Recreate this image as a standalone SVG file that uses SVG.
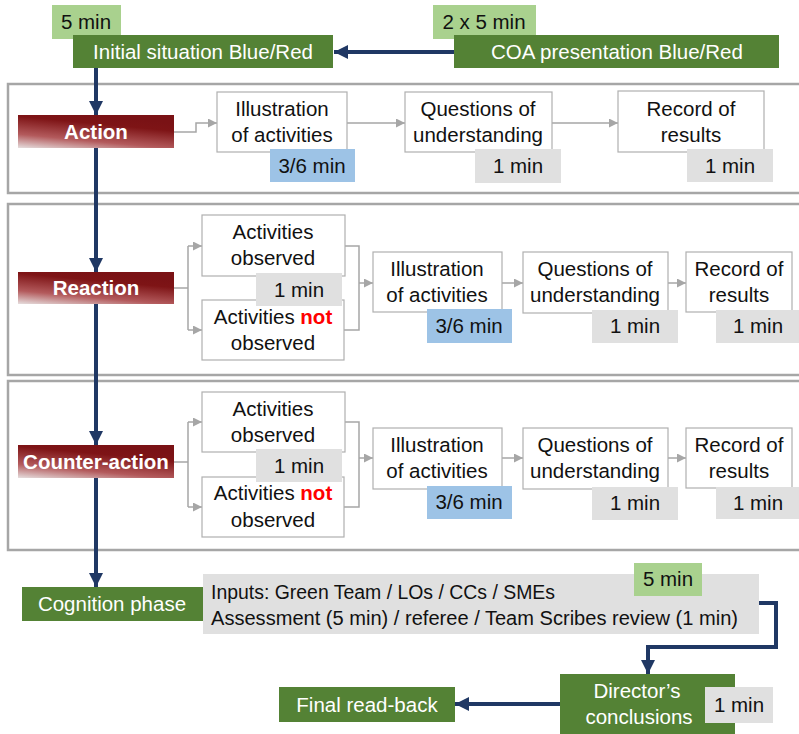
<svg xmlns="http://www.w3.org/2000/svg" width="799" height="734" viewBox="0 0 799 734">
  <style>
    .t { font-family: "Liberation Sans", Arial, sans-serif; font-size: 20.5px; fill: #111; text-anchor: middle; }
    .w { fill: #ffffff; }
    .b { font-weight: bold; }
    .l { text-anchor: start; font-size: 20px; }
    .frame { fill: none; stroke: #a6a6a6; stroke-width: 2.5; }
    .box { fill: #ffffff; stroke: #b0b0b0; stroke-width: 1.2; }
    .green { fill: #548235; }
    .lgreen { fill: #a9d18e; }
    .blue { fill: #9dc3e6; }
    .grey { fill: #e0e0e0; }
    .phase { fill: url(#phaseGrad); }
    .thin { fill: none; stroke: #a6a6a6; stroke-width: 1.5; }
    .thinA { fill: none; stroke: #a6a6a6; stroke-width: 1.5; marker-end: url(#greyArrow); }
    .navy { fill: none; stroke: #203864; stroke-width: 4; marker-end: url(#navyArrow); }
    .red { fill: #ff0000; font-weight: bold; }
  </style>
  <defs>
    <linearGradient id="phaseGrad" x1="0" y1="1" x2="0.45" y2="0">
      <stop offset="0" stop-color="#e6dede"/>
      <stop offset="0.35" stop-color="#b35a5c"/>
      <stop offset="0.8" stop-color="#7e1416"/>
      <stop offset="1" stop-color="#7a1215"/>
    </linearGradient>
    <marker id="greyArrow" markerUnits="userSpaceOnUse" markerWidth="9" markerHeight="9" refX="9" refY="4.5" orient="auto">
      <path d="M0,0 L9,4.5 L0,9 z" fill="#a6a6a6"/>
    </marker>
    <marker id="navyArrow" markerUnits="userSpaceOnUse" markerWidth="14" markerHeight="14" refX="14" refY="7" orient="auto">
      <path d="M0,0 L14,7 L0,14 z" fill="#203864"/>
    </marker>
  </defs>

  <!-- phase frames (open to the right) -->
  <g id="frames">
    <path class="frame" d="M805,84 H8 V193 H805"/>
    <path class="frame" d="M805,204 H8 V375 H805"/>
    <path class="frame" d="M805,381 H8 V550 H805"/>
  </g>

  <!-- connectors -->
  <g id="connectors">
    <path class="navy" d="M454,52 H334"/>
    <path class="navy" d="M96,68 V115"/>
    <path class="navy" d="M96,148 V272"/>
    <path class="navy" d="M96,304 V445"/>
    <path class="navy" d="M96,478 V587"/>
    <path class="navy" d="M759,603 H776 V647 H648 V674"/>
    <path class="navy" d="M560,704 H455"/>

    <!-- action row -->
    <path class="thinA" d="M174,132 H196 V123 H217"/>
    <path class="thinA" d="M347,123 H405"/>
    <path class="thinA" d="M552,123 H618"/>

    <!-- reaction row -->
    <path class="thin" d="M174,288 H188 M188,246 V330"/>
    <path class="thinA" d="M188,246 H202"/>
    <path class="thinA" d="M188,330 H202"/>
    <path class="thin" d="M345,246 H359 V330 H344"/>
    <path class="thinA" d="M359,283 H373"/>
    <path class="thinA" d="M502,283 H523"/>
    <path class="thinA" d="M668,283 H686"/>

    <!-- counter-action row -->
    <path class="thin" d="M174,462 H188 M188,422 V507"/>
    <path class="thinA" d="M188,422 H202"/>
    <path class="thinA" d="M188,507 H202"/>
    <path class="thin" d="M345,422 H359 V507 H344"/>
    <path class="thinA" d="M359,458 H373"/>
    <path class="thinA" d="M502,458 H523"/>
    <path class="thinA" d="M668,458 H686"/>
  </g>

  <!-- briefing -->
  <g id="initial-situation">
    <rect class="lgreen" x="52" y="5" width="69" height="34"/>
    <text class="t" x="86" y="29">5 min</text>
    <rect class="green" x="73" y="35" width="260" height="33"/>
    <text class="t w" x="203" y="59">Initial situation Blue/Red</text>
  </g>
  <g id="coa-presentation">
    <rect class="lgreen" x="433" y="5" width="103" height="34"/>
    <text class="t" x="484" y="29">2 x 5 min</text>
    <rect class="green" x="454" y="35" width="325" height="33"/>
    <text class="t w" x="617" y="59">COA presentation Blue/Red</text>
  </g>

  <!-- action phase -->
  <g id="action">
    <rect class="phase" x="18" y="115" width="156" height="33"/>
    <text class="t w b" x="96" y="139">Action</text>
  </g>
  <g id="action-illustration">
    <rect class="box" x="217" y="92" width="130" height="60"/>
    <text class="t" x="282" y="116">Illustration</text>
    <text class="t" x="282" y="142">of activities</text>
    <rect class="blue" x="270" y="149" width="85" height="33"/>
    <text class="t" x="312" y="173">3/6 min</text>
  </g>
  <g id="action-questions">
    <rect class="box" x="405" y="92" width="147" height="60"/>
    <text class="t" x="478" y="116">Questions of</text>
    <text class="t" x="478" y="142">understanding</text>
    <rect class="grey" x="475" y="149" width="86" height="34"/>
    <text class="t" x="518" y="173">1 min</text>
  </g>
  <g id="action-record">
    <rect class="box" x="618" y="91" width="146" height="61"/>
    <text class="t" x="691" y="116">Record of</text>
    <text class="t" x="691" y="142">results</text>
    <rect class="grey" x="687" y="149" width="86" height="33"/>
    <text class="t" x="730" y="173">1 min</text>
  </g>

  <!-- reaction phase -->
  <g id="reaction">
    <rect class="phase" x="18" y="272" width="156" height="32"/>
    <text class="t w b" x="96" y="295">Reaction</text>
  </g>
  <g id="reaction-not-observed">
    <rect class="box" x="202" y="300" width="142" height="60"/>
    <text class="t" x="273" y="324">Activities <tspan class="red">not</tspan></text>
    <text class="t" x="273" y="350">observed</text>
  </g>
  <g id="reaction-observed">
    <rect class="box" x="202" y="215" width="143" height="61"/>
    <text class="t" x="273" y="239">Activities</text>
    <text class="t" x="273" y="265">observed</text>
    <rect class="grey" x="256" y="273" width="86" height="33"/>
    <text class="t" x="299" y="297">1 min</text>
  </g>
  <g id="reaction-illustration">
    <rect class="box" x="373" y="252" width="129" height="60"/>
    <text class="t" x="437" y="276">Illustration</text>
    <text class="t" x="437" y="302">of activities</text>
    <rect class="blue" x="427" y="309" width="85" height="34"/>
    <text class="t" x="469" y="333">3/6 min</text>
  </g>
  <g id="reaction-questions">
    <rect class="box" x="523" y="252" width="145" height="61"/>
    <text class="t" x="595" y="276">Questions of</text>
    <text class="t" x="595" y="302">understanding</text>
    <rect class="grey" x="592" y="310" width="86" height="33"/>
    <text class="t" x="635" y="333">1 min</text>
  </g>
  <g id="reaction-record">
    <rect class="box" x="686" y="252" width="106" height="60"/>
    <text class="t" x="739" y="276">Record of</text>
    <text class="t" x="739" y="302">results</text>
    <rect class="grey" x="716" y="310" width="86" height="33"/>
    <text class="t" x="758" y="333">1 min</text>
  </g>

  <!-- counter-action phase -->
  <g id="counter-action">
    <rect class="phase" x="18" y="445" width="156" height="33"/>
    <text class="t w b" x="96" y="469">Counter-action</text>
  </g>
  <g id="counter-not-observed">
    <rect class="box" x="202" y="477" width="142" height="60"/>
    <text class="t" x="273" y="500">Activities <tspan class="red">not</tspan></text>
    <text class="t" x="273" y="527">observed</text>
  </g>
  <g id="counter-observed">
    <rect class="box" x="202" y="392" width="143" height="60"/>
    <text class="t" x="273" y="416">Activities</text>
    <text class="t" x="273" y="442">observed</text>
    <rect class="grey" x="256" y="449" width="86" height="33"/>
    <text class="t" x="299" y="473">1 min</text>
  </g>
  <g id="counter-illustration">
    <rect class="box" x="373" y="428" width="129" height="61"/>
    <text class="t" x="437" y="452">Illustration</text>
    <text class="t" x="437" y="478">of activities</text>
    <rect class="blue" x="427" y="486" width="85" height="33"/>
    <text class="t" x="469" y="509">3/6 min</text>
  </g>
  <g id="counter-questions">
    <rect class="box" x="523" y="428" width="145" height="61"/>
    <text class="t" x="595" y="452">Questions of</text>
    <text class="t" x="595" y="478">understanding</text>
    <rect class="grey" x="592" y="487" width="86" height="33"/>
    <text class="t" x="635" y="510">1 min</text>
  </g>
  <g id="counter-record">
    <rect class="box" x="686" y="428" width="106" height="60"/>
    <text class="t" x="739" y="452">Record of</text>
    <text class="t" x="739" y="478">results</text>
    <rect class="grey" x="716" y="487" width="86" height="32"/>
    <text class="t" x="758" y="510">1 min</text>
  </g>

  <!-- cognition and wrap-up -->
  <g id="cognition-phase">
    <rect class="green" x="22" y="587" width="181" height="34"/>
    <text class="t w" x="112" y="611">Cognition phase</text>
  </g>
  <g id="cognition-inputs">
    <rect class="grey" x="203" y="574" width="556" height="60"/>
    <text class="t l" x="211" y="599" textLength="344" lengthAdjust="spacingAndGlyphs">Inputs: Green Team / LOs / CCs / SMEs</text>
    <text class="t l" x="211" y="625" textLength="527" lengthAdjust="spacingAndGlyphs">Assessment (5 min) / referee / Team Scribes review (1 min)</text>
    <rect class="lgreen" x="634" y="563" width="68" height="33"/>
    <text class="t" x="668" y="586">5 min</text>
  </g>
  <g id="directors-conclusions">
    <rect class="green" x="560" y="674" width="175" height="62"/>
    <text class="t w" x="637" y="698">Director’s</text>
    <text class="t w" x="639" y="724">conclusions</text>
    <rect class="grey" x="705" y="687" width="68" height="36"/>
    <text class="t" x="739" y="712">1 min</text>
  </g>
  <g id="final-read-back">
    <rect class="green" x="279" y="687" width="176" height="35"/>
    <text class="t w" x="367" y="712">Final read-back</text>
  </g>
</svg>
